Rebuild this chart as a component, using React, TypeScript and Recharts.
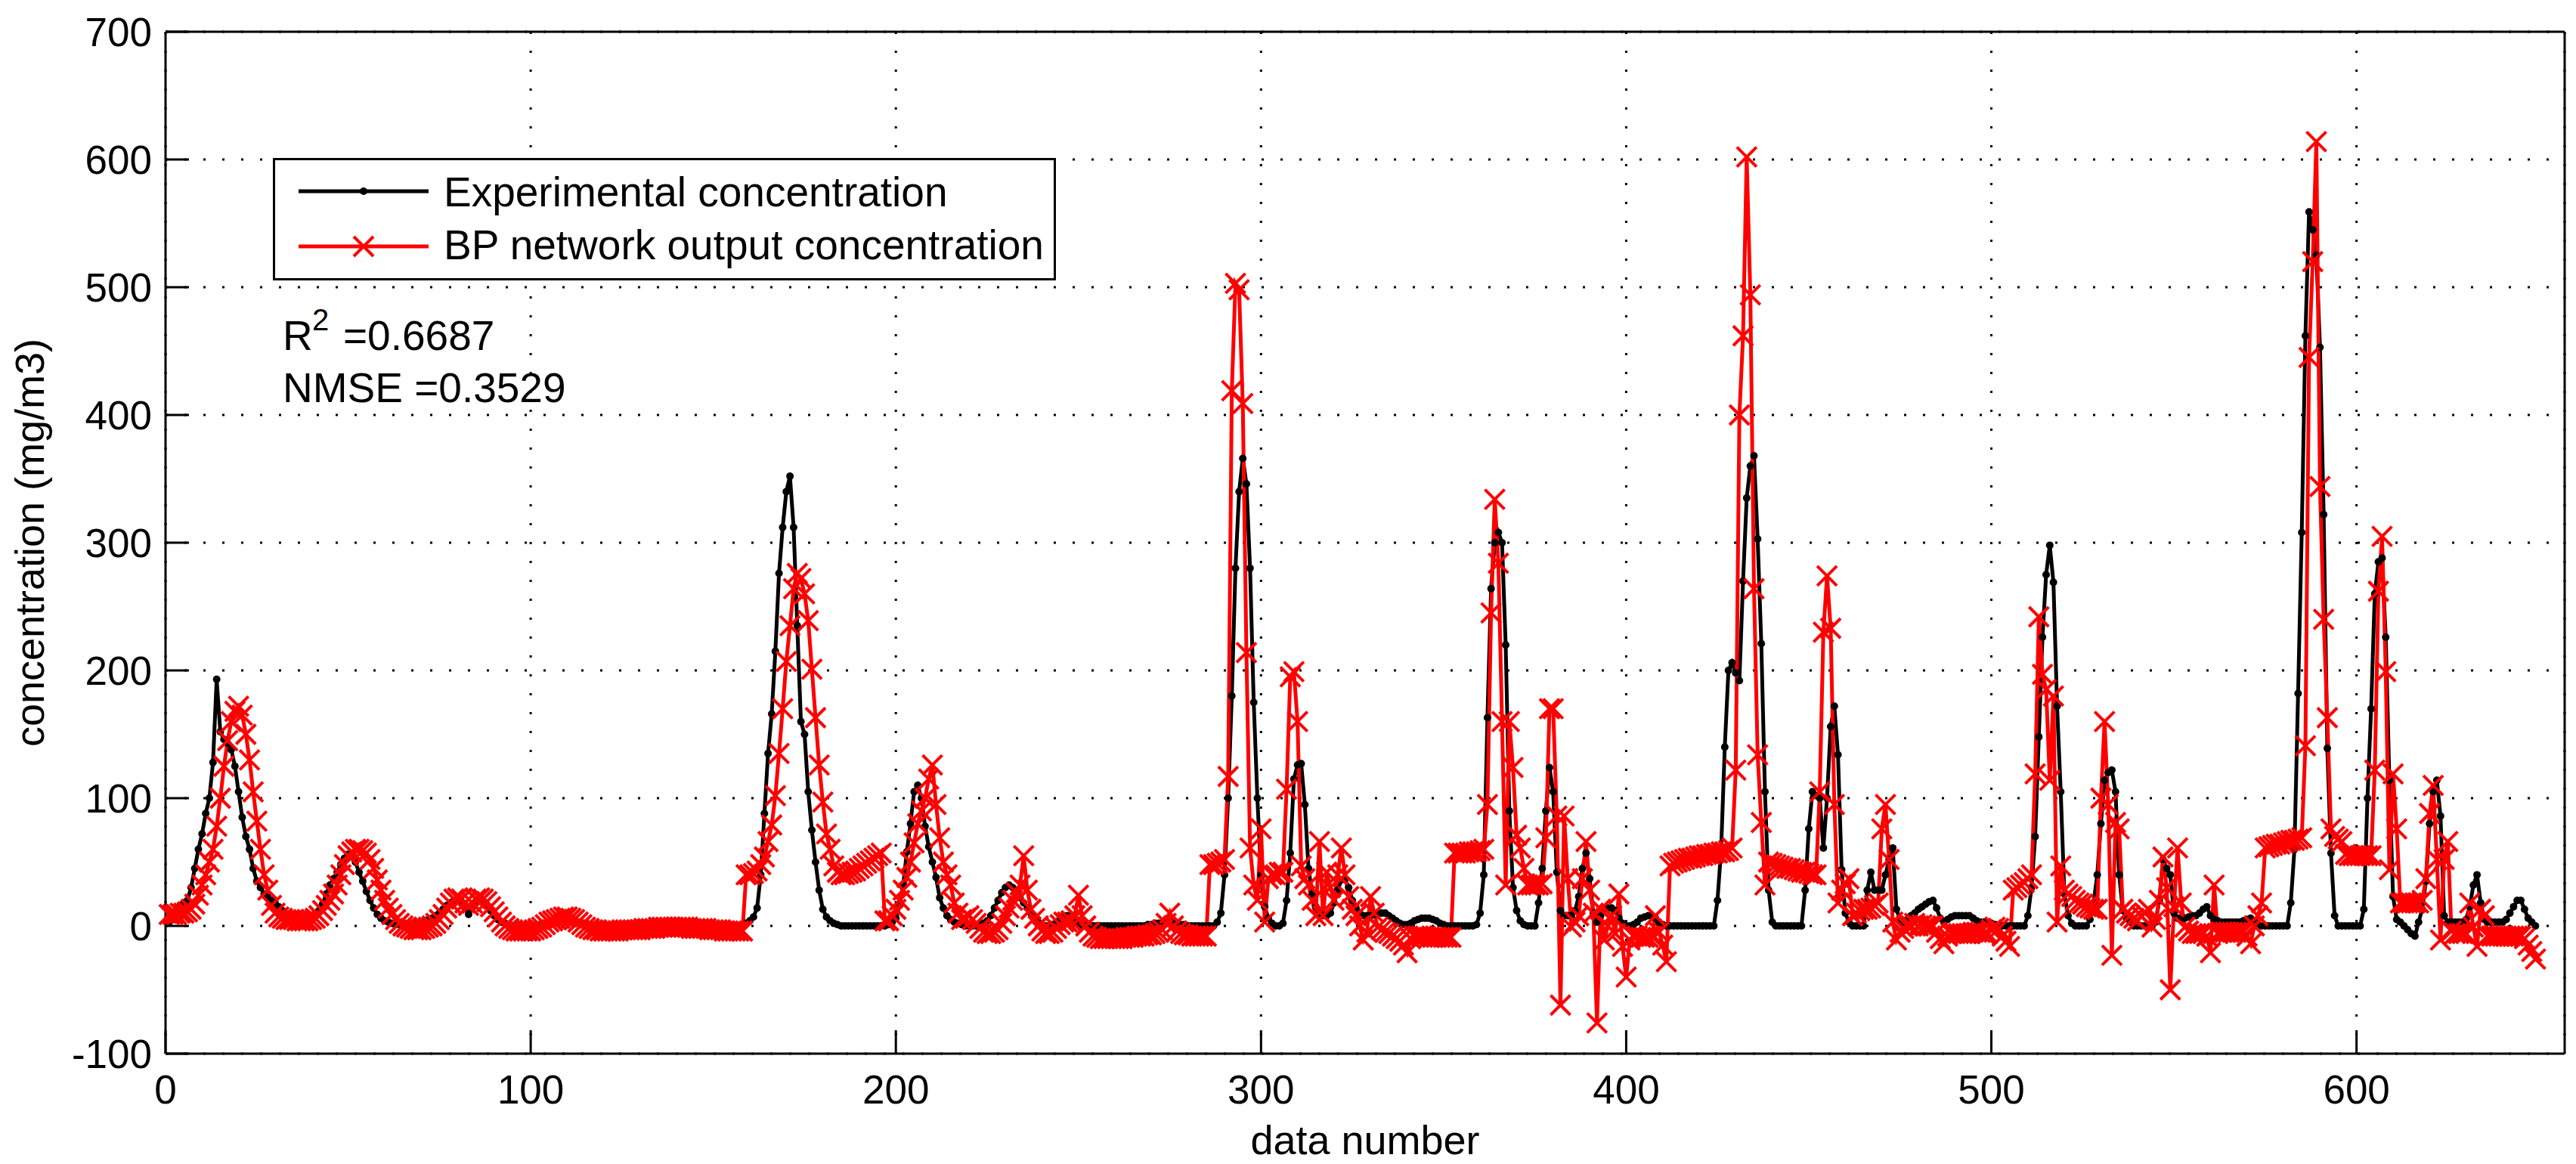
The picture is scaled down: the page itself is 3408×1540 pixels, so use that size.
import { LineChart, Line, XAxis, YAxis, CartesianGrid, Legend } from "recharts";

const FONT = '"Liberation Sans", Arial, Helvetica, sans-serif';

// measured concentration, samples 1..649 (mg/m3)
const experimental = [
  3, 5, 10, 16, 18, 20, 30, 45, 60, 72,
  88, 100, 128, 193, 152, 146, 143, 138, 125, 105,
  85, 70, 60, 45, 35, 30, 25, 22, 20, 18,
  15, 12, 9, 6, 4, 2, 1, 2, 3, 5,
  8, 12, 17, 25, 32, 37, 42, 48, 53, 56,
  55, 50, 42, 35, 27, 20, 14, 9, 6, 4,
  3, 2, 1, 1, 0, 0, 0, 1, 2, 3,
  4, 5, 6, 8, 10, 13, 16, 18, 20, 20,
  18, 14, 9, 14, 18, 20, 19, 16, 12, 8,
  5, 3, 2, 1, 0, 0, 0, 0, 0, 0,
  0, 0, 1, 2, 3, 4, 5, 6, 6, 6,
  5, 4, 3, 2, 1, 1, 0, 0, -1, -1,
  -1, -1, -1, -1, -1, -1, -1, -1, -1, 0,
  0, 0, 0, 0, 0, 0, 1, 1, 1, 1,
  1, 1, 1, 1, 1, 1, 1, 1, 0, 0,
  0, 0, 0, 0, 0, 0, 0, 0, 2, 4,
  7, 14, 40, 88, 135, 166, 215, 276, 312, 340,
  352, 312, 235, 160, 150, 105, 75, 50, 28, 13,
  7, 4, 2, 1, 0, 0, 0, 0, 0, 0,
  0, 0, 0, 0, 0, 0, 0, 1, 3, 6,
  16, 32, 58, 80, 105, 110, 100, 78, 62, 50,
  38, 22, 14, 8, 5, 3, 2, 1, 0, 0,
  0, 0, 1, 2, 4, 8, 14, 20, 26, 30,
  32, 30, 26, 22, 18, 14, 10, 6, 3, 1,
  0, 0, 1, 3, 6, 8, 8, 6, 3, 1,
  0, 0, 0, 0, 0, 0, 0, 0, 0, 0,
  0, 0, 0, 0, 0, 0, 0, 0, 1, 1,
  2, 2, 2, 2, 2, 2, 1, 1, 1, 0,
  0, 0, 0, 0, 0, 0, 0, 3, 10, 40,
  100, 180, 280, 340, 366, 346, 280, 175, 100, 40,
  15, 6, 2, 0, 0, 2, 20, 57, 115, 126,
  127, 95, 45, 25, 15, 10, 8, 8, 10, 18,
  28, 36, 37, 30, 20, 14, 10, 8, 8, 8,
  9, 10, 10, 10, 8, 6, 4, 2, 1, 1,
  2, 4, 5, 6, 6, 6, 5, 4, 2, 1,
  0, 0, 0, 0, 0, 0, 0, 0, 1, 10,
  40, 163, 264, 300, 308, 300, 220, 90, 30, 12,
  4, 1, 0, 0, 0, 18, 45, 90, 124, 105,
  42, 12, 8, 8, 8, 12, 23, 45, 57, 37,
  10, 3, 8, 13, 14, 14, 12, 6, 2, 0,
  0, 1, 3, 6, 7, 8, 8, 6, 3, 1,
  0, 0, 0, 0, 0, 0, 0, 0, 0, 0,
  0, 0, 0, 0, 20, 60, 140, 200, 206, 198,
  192, 270, 335, 360, 368, 303, 221, 105, 28, 3,
  0, 0, 0, 0, 0, 0, 0, 0, 28, 76,
  105, 102, 100, 61, 100, 156, 172, 134, 44, 10,
  3, 0, 0, 0, 0, 28, 42, 28, 28, 28,
  40, 52, 61, 13, 5, 3, 5, 8, 10, 13,
  15, 17, 19, 20, 14, 6, 3, 5, 7, 8,
  8, 8, 8, 8, 6, 4, 3, 3, 3, 2,
  1, 0, 0, 0, 0, 0, 0, 0, 0, 8,
  30, 70, 148, 226, 275, 298, 269, 172, 105, 25,
  8, 2, 0, 0, 0, 0, 5, 18, 40, 80,
  114, 120, 122, 105, 40, 12, 6, 3, 0, 0,
  0, 0, 0, 0, 3, 20, 52, 45, 40, 10,
  6, 6, 6, 7, 8, 8, 10, 13, 15, 8,
  5, 4, 3, 3, 3, 3, 3, 3, 4, 5,
  6, 3, 1, 0, 0, 0, 0, 0, 0, 0,
  0, 18, 60, 182, 308, 462, 559, 545, 525, 453,
  322, 139, 57, 8, 0, 0, 0, 0, 0, 0,
  0, 13, 100, 170, 260, 285, 288, 226, 114, 23,
  5, 3, 0, -3, -6, -8, 3, 13, 35, 80,
  105, 114, 86, 8, 3, 3, 3, 3, 3, 5,
  15, 32, 40, 18, 5, 3, 3, 3, 3, 3,
  5, 10, 15, 20, 20, 13, 6, 3, 0,
];

// BP network output, same samples
const bpOutput = [
  9, 9, 9, 10, 10, 11, 13, 17, 24, 32,
  40, 50, 60, 78, 100, 125, 145, 160, 168, 172,
  165, 150, 130, 105, 82, 60, 40, 28, 16, 10,
  7, 6, 5, 5, 5, 4, 4, 4, 4, 5,
  6, 8, 12, 16, 20, 25, 32, 40, 48, 55,
  58, 60, 60, 59, 57, 52, 45, 36, 28, 20,
  14, 9, 5, 2, 0, -1, -2, -3, -3, -3,
  -2, -1, 0, 2, 5, 9, 14, 18, 21, 22,
  21, 18, 16, 18, 21, 22, 21, 19, 15, 11,
  7, 3, 0, -2, -3, -4, -4, -4, -4, -4,
  -3, -2, -1, 1, 3, 4, 5, 6, 7, 7,
  6, 5, 3, 1, -1, -2, -3, -3, -4, -4,
  -4, -4, -4, -4, -3, -3, -3, -3, -3, -3,
  -2, -2, -2, -2, -1, -1, -1, -1, -1, -1,
  -1, -1, -1, -2, -2, -2, -2, -2, -3, -3,
  -3, -3, -4, -4, -4, -4, -4, -4, 40, 40,
  41, 43, 48, 54, 66, 79, 102, 135, 170, 207,
  235, 264, 276, 272, 260, 239, 201, 163, 126, 97,
  72, 60, 47, 42, 40, 40, 41, 42, 43, 45,
  47, 49, 51, 53, 55, 57, 4, 4, 8, 13,
  20, 28, 38, 50, 65, 80, 90, 100, 115, 126,
  95, 69, 50, 40, 32, 18, 10, 5, 6, 8,
  5, 2, -2, -5, -6, -6, -5, -3, 2, 8,
  14, 20, 26, 32, 55, 28, 13, 6, 0, -4,
  -6, -6, -5, -2, 1, 3, 3, 4, 8, 24,
  8, 0, -5, -8, -9, -10, -10, -10, -10, -10,
  -10, -10, -9, -9, -9, -8, -8, -8, -7, -7,
  -6, -5, -3, 2, 10, 0, -4, -6, -7, -7,
  -8, -8, -8, -8, -8, 48, 48, 49, 50, 52,
  117, 419, 503, 498, 409, 214, 61, 32, 20, 76,
  3, 37, 40, 40, 42, 42, 107, 195, 199, 160,
  47, 37, 32, 20, 8, 66, 8, 42, 30, 20,
  40, 61, 40, 23, 13, 8, 0, -11, -5, 23,
  10, -1, -3, -5, -6, -8, -10, -12, -15, -21,
  -10, -8, -8, -8, -8, -9, -9, -9, -9, -9,
  -9, -9, 57, 57, 57, 57, 58, 58, 58, 59,
  60, 95, 245, 334, 284, 160, 32, 160, 124, 71,
  61, 45, 32, 32, 32, 32, 33, 69, 170, 170,
  86, -62, 86, 37, -1, 3, 8, 37, 66, 28,
  10, -76, 13, -11, 0, 8, -6, 25, -16, -40,
  -11, -8, -8, -9, -9, -9, -8, 8, -5, -15,
  -28, 47, 49, 50, 51, 52, 53, 53, 54, 55,
  55, 56, 56, 57, 57, 58, 58, 59, 61, 122,
  400, 462, 602, 494, 264, 134, 81, 32, 50, 49,
  48, 47, 46, 45, 45, 44, 43, 42, 42, 41,
  40, 40, 105, 230, 274, 233, 95, 18, 28, 33,
  37, 8, 10, 12, 13, 13, 14, 16, 18, 76,
  95, 52, 3, -11, -5, -2, 0, 0, 2, 0,
  1, 0, 0, 0, -5, -10, -14, -8, -6, -6,
  -6, -6, -6, -6, -5, -5, -5, -6, -6, -3,
  -1, -2, -8, -12, -16, 28, 30, 32, 34, 37,
  40, 119, 242, 197, 185, 114, 180, 3, 47, 28,
  25, 23, 20, 18, 17, 15, 14, 13, 13, 100,
  160, 95, -23, 81, 76, 13, 10, 8, 6, 4,
  8, 10, 13, -1, 5, 20, 54, 30, -50, 15,
  61, 18, -1, -4, -6, -6, -6, -6, -8, -21,
  32, -6, -5, -5, -5, -5, -5, -5, -5, -8,
  -14, 0, 8, 18, 61, 62, 63, 64, 64, 65,
  66, 67, 67, 68, 69, 141, 445, 520, 614, 344,
  240, 163, 76, 70, 68, 66, 56, 55, 55, 55,
  55, 55, 55, 55, 122, 262, 305, 199, 44, 119,
  76, 18, 18, 18, 18, 18, 18, 20, 37, 88,
  110, 52, -11, 52, 66, -4, -6, -6, -6, -6,
  18, -1, -16, 13, 8, -8, -8, -8, -8, -8,
  -8, -8, -8, -8, -8, -10, -15, -20, -26,
];

const xTicks = [0, 100, 200, 300, 400, 500, 600];
const yTicks = [-100, 0, 100, 200, 300, 400, 500, 600, 700];
const seriesNames = ["Experimental concentration", "BP network output concentration"];

const data = experimental.map((v, i) => ({ n: i + 1, exp: v, bp: bpOutput[i] }));

const axisStroke = { stroke: "#000", strokeWidth: 3 };
const tickFont = { fontSize: 53, fill: "#000", fontFamily: FONT };

const BlackDot = (p: any) => <circle key={p.index} cx={p.cx} cy={p.cy} r={5} fill="#000" />;

const RedCross = (p: any) => {
  const s = 13;
  const { cx, cy } = p;
  return (
    <path
      key={p.index}
      d={`M${cx - s},${cy - s}L${cx + s},${cy + s}M${cx - s},${cy + s}L${cx + s},${cy - s}`}
      stroke="#ff0000"
      strokeWidth={4}
      fill="none"
    />
  );
};

const LegendBox = () => (
  <svg width={1036} height={162} style={{ display: "block" }}>
    <rect x={1.5} y={1.5} width={1033} height={159} fill="#fff" stroke="#000" strokeWidth={3} />
    <line x1={34} y1={44} x2={206} y2={44} stroke="#000" strokeWidth={5} />
    <circle cx={120} cy={44} r={5} fill="#000" />
    <text x={226} y={64} fontSize={55} fontFamily={FONT} fill="#000">{seriesNames[0]}</text>
    <line x1={34} y1={117} x2={206} y2={117} stroke="#ff0000" strokeWidth={5} />
    <path d="M107,104L133,130M107,130L133,104" stroke="#ff0000" strokeWidth={4} fill="none" />
    <text x={226} y={134} fontSize={55} fontFamily={FONT} fill="#000">{seriesNames[1]}</text>
  </svg>
);

export default function App() {
  return (
    <div style={{ position: "absolute", left: 0, top: 0, width: 3408, height: 1540, background: "#fff" }}>
      <LineChart width={3408} height={1540} data={data} margin={{ top: 0, right: 0, bottom: 0, left: 0 }}>
        <CartesianGrid stroke="#000" strokeWidth={3} strokeDasharray="3 22" />
        <XAxis
          dataKey="n"
          type="number"
          domain={[0, 657]}
          ticks={xTicks}
          interval={0}
          height={146}
          tickSize={-31}
          tickMargin={59}
          axisLine={axisStroke}
          tickLine={axisStroke}
          tick={tickFont}
        />
        <XAxis
          xAxisId="top"
          orientation="top"
          dataKey="n"
          type="number"
          domain={[0, 657]}
          ticks={xTicks}
          interval={0}
          height={42}
          tickSize={-31}
          axisLine={axisStroke}
          tickLine={axisStroke}
          tick={false}
        />
        <YAxis
          type="number"
          domain={[-100, 700]}
          ticks={yTicks}
          interval={0}
          width={219}
          tickSize={-31}
          tickMargin={49}
          axisLine={axisStroke}
          tickLine={axisStroke}
          tick={tickFont}
        />
        <YAxis
          yAxisId="right"
          orientation="right"
          type="number"
          domain={[-100, 700]}
          ticks={yTicks}
          interval={0}
          width={15}
          tickSize={-31}
          axisLine={axisStroke}
          tickLine={axisStroke}
          tick={false}
        />
        <Legend
          layout="horizontal"
          verticalAlign="middle"
          align="center"
          content={() => <LegendBox />}
          wrapperStyle={{ left: 361, top: 209, width: 1036, height: 162 }}
        />
        <Line
          type="linear"
          dataKey="exp"
          name={seriesNames[0]}
          stroke="#000"
          strokeWidth={5}
          dot={BlackDot}
          activeDot={false}
          isAnimationActive={false}
        />
        <Line
          type="linear"
          dataKey="bp"
          name={seriesNames[1]}
          stroke="#ff0000"
          strokeWidth={5}
          dot={RedCross}
          activeDot={false}
          isAnimationActive={false}
        />
      </LineChart>
      <svg
        width={3408}
        height={1540}
        style={{ position: "absolute", left: 0, top: 0, pointerEvents: "none" }}
        fontFamily={FONT}
        fill="#000"
      >
        <text x={374} y={463} fontSize={55}>R</text>
        <text x={413} y={437} fontSize={40}>2</text>
        <text x={454} y={463} fontSize={55}>=0.6687</text>
        <text x={374} y={532} fontSize={55}>NMSE =0.3529</text>
        <text x={1806} y={1527} fontSize={54} textAnchor="middle">data number</text>
        <text x={58} y={718} fontSize={54} textAnchor="middle" transform="rotate(-90 58 718)">
          concentration (mg/m3)
        </text>
      </svg>
    </div>
  );
}
